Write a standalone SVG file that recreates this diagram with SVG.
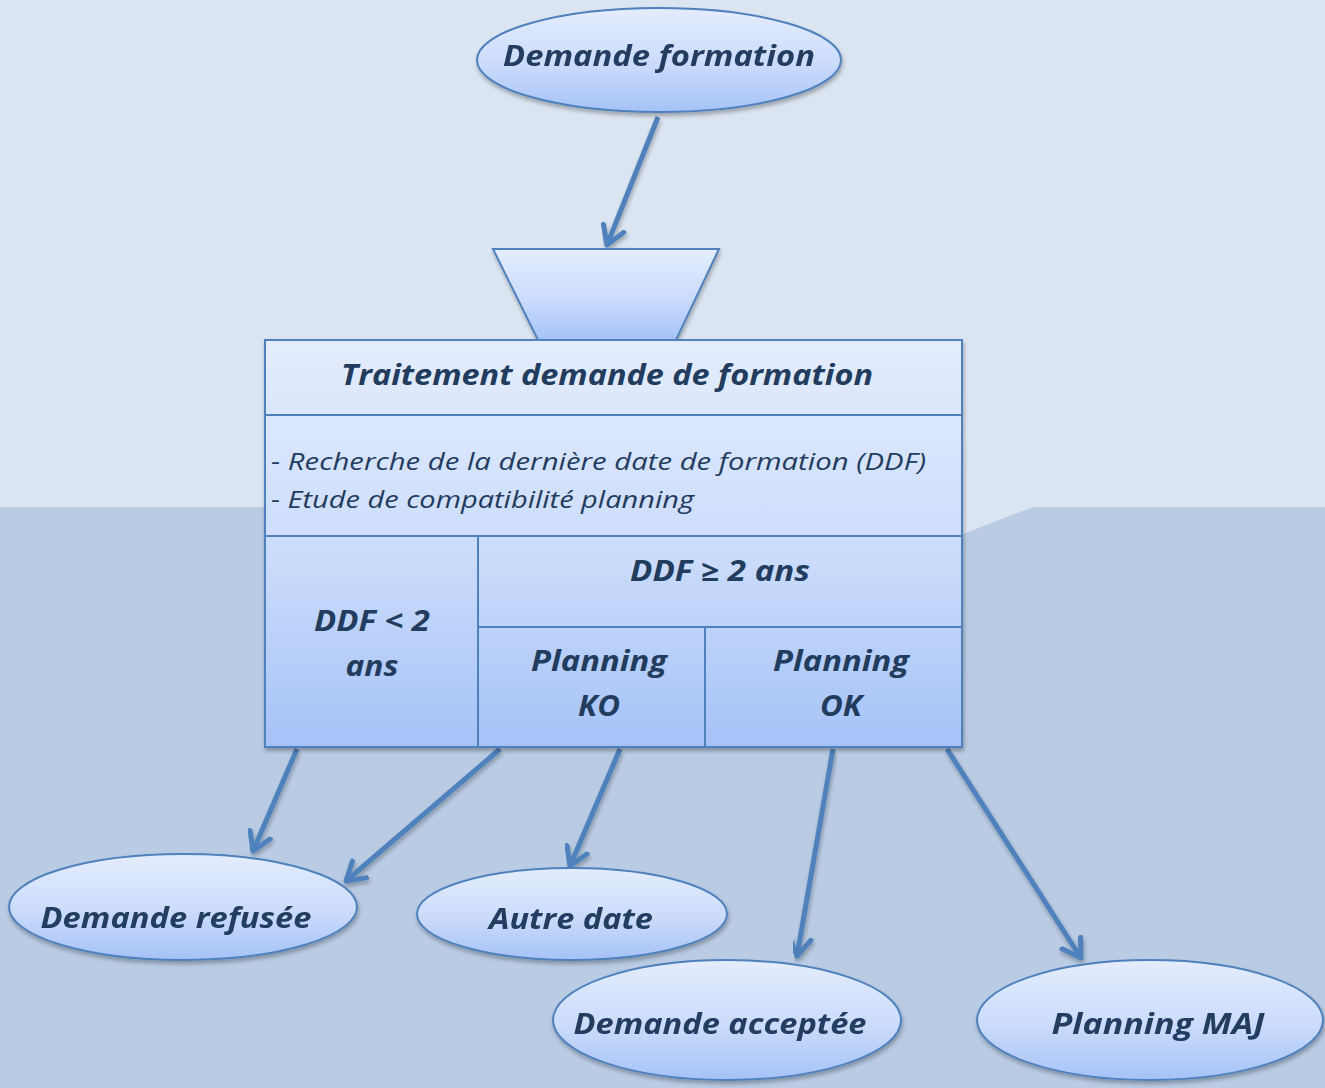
<svg xmlns="http://www.w3.org/2000/svg" width="1325" height="1088" viewBox="0 0 1325 1088">
  <defs>
    <linearGradient id="fillV" x1="0" y1="0" x2="0" y2="1">
      <stop offset="0" stop-color="#E4EDFD"/>
      <stop offset="0.55" stop-color="#CADBFB"/>
      <stop offset="1" stop-color="#A5C2F7"/>
    </linearGradient>
    <filter id="shadow" x="-10%" y="-10%" width="120%" height="130%">
      <feGaussianBlur in="SourceAlpha" stdDeviation="2"/>
      <feOffset dx="1" dy="3" result="b"/>
      <feComponentTransfer><feFuncA type="linear" slope="0.3"/></feComponentTransfer>
      <feMerge><feMergeNode/><feMergeNode in="SourceGraphic"/></feMerge>
    </filter>
    <marker id="arrow" markerUnits="userSpaceOnUse" markerWidth="40" markerHeight="40" refX="20" refY="20" orient="auto" viewBox="0 0 40 40">
      <path d="M2 9 L20 20 L2 31" fill="none" stroke="#4F81BD" stroke-width="5" stroke-linecap="round" stroke-linejoin="round"/>
    </marker>
    <style>
      .shape { fill: url(#fillV); stroke: #4F81BD; stroke-width: 2; }
      .div { stroke: #4F81BD; stroke-width: 2; fill: none; }
      .conn { stroke: #4F81BD; stroke-width: 5; fill: none; marker-end: url(#arrow); filter: url(#shadow); }
      .t { font-family: "Open Sans", "Liberation Sans", sans-serif; font-style: italic; font-weight: bold; font-size: 28px; fill: #223C5E; text-anchor: middle; }
      .b { font-family: "Open Sans", "Liberation Sans", sans-serif; font-style: italic; font-size: 24px; fill: #223C5E; }
    </style>
  </defs>

  <!-- backdrop -->
  <rect x="0" y="0" width="1325" height="1088" fill="#DBE5F1"/>
  <polygon points="0,507 600,507 963,534 1033,507 1325,507 1325,1088 0,1088" fill="#B9CCE4"/>

  <!-- connectors -->
  <g id="connectors">
    <line class="conn" x1="658" y1="117" x2="607" y2="245"/>
    <line class="conn" x1="297" y1="749" x2="253" y2="851"/>
    <line class="conn" x1="500" y1="749" x2="346" y2="881"/>
    <line class="conn" x1="620" y1="749" x2="570" y2="866"/>
    <line class="conn" x1="833" y1="749" x2="797" y2="956"/>
    <line class="conn" x1="947" y1="749" x2="1081" y2="958"/>
  </g>

  <g id="demande-formation" filter="url(#shadow)">
    <ellipse class="shape" cx="659" cy="60" rx="182" ry="52"/>
    <text class="t" x="659" y="66" textLength="312" lengthAdjust="spacingAndGlyphs">Demande formation</text>
  </g>

  <g id="entree" filter="url(#shadow)">
    <polygon class="shape" points="493,249 719,249 676,340 538,340"/>
  </g>

  <g id="traitement">
    <rect class="shape" x="265" y="340" width="697" height="407" filter="url(#shadow)"/>
    <line class="div" x1="265" y1="415" x2="962" y2="415"/>
    <line class="div" x1="265" y1="536" x2="962" y2="536"/>
    <line class="div" x1="478" y1="536" x2="478" y2="747"/>
    <line class="div" x1="478" y1="627" x2="962" y2="627"/>
    <line class="div" x1="705" y1="627" x2="705" y2="747"/>
    <text class="t" x="607" y="385" textLength="532" lengthAdjust="spacingAndGlyphs">Traitement demande de formation</text>
    <text class="b" x="271" y="470" textLength="655" lengthAdjust="spacingAndGlyphs">- Recherche de la dernière date de formation (DDF)</text>
    <text class="b" x="271" y="508" textLength="423" lengthAdjust="spacingAndGlyphs">- Etude de compatibilité planning</text>
    <text class="t" x="372" y="631" textLength="116" lengthAdjust="spacingAndGlyphs">DDF &lt; 2</text>
    <text class="t" x="372" y="676" textLength="53" lengthAdjust="spacingAndGlyphs">ans</text>
    <text class="t" x="720" y="581" textLength="180" lengthAdjust="spacingAndGlyphs">DDF ≥ 2 ans</text>
    <text class="t" x="599" y="671" textLength="136" lengthAdjust="spacingAndGlyphs">Planning</text>
    <text class="t" x="599" y="716" textLength="42" lengthAdjust="spacingAndGlyphs">KO</text>
    <text class="t" x="841" y="671" textLength="136" lengthAdjust="spacingAndGlyphs">Planning</text>
    <text class="t" x="841" y="716" textLength="42" lengthAdjust="spacingAndGlyphs">OK</text>
  </g>

  <g id="demande-refusee" filter="url(#shadow)">
    <ellipse class="shape" cx="183" cy="907" rx="174" ry="53"/>
    <text class="t" x="176" y="928" textLength="271" lengthAdjust="spacingAndGlyphs">Demande refusée</text>
  </g>

  <g id="autre-date" filter="url(#shadow)">
    <ellipse class="shape" cx="572" cy="914" rx="155" ry="46"/>
    <text class="t" x="571" y="929" textLength="164" lengthAdjust="spacingAndGlyphs">Autre date</text>
  </g>

  <g id="demande-acceptee" filter="url(#shadow)">
    <ellipse class="shape" cx="727" cy="1020" rx="174" ry="60"/>
    <text class="t" x="720" y="1034" textLength="293" lengthAdjust="spacingAndGlyphs">Demande acceptée</text>
  </g>

  <g id="planning-maj" filter="url(#shadow)">
    <ellipse class="shape" cx="1150" cy="1020" rx="173" ry="60"/>
    <text class="t" x="1158" y="1034" textLength="213" lengthAdjust="spacingAndGlyphs">Planning MAJ</text>
  </g>
</svg>
